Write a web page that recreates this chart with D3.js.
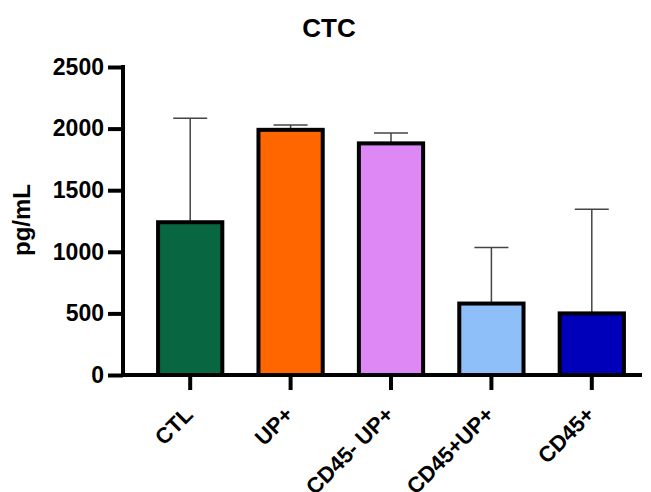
<!DOCTYPE html>
<html>
<head>
<meta charset="utf-8">
<script src="https://cdn.jsdelivr.net/npm/d3@7"></script>
<style>
  body { margin: 0; background: #fff; }
  text { font-family: "Liberation Sans", Arial, sans-serif; font-weight: bold; }
</style>
</head>
<body>
<script>
const width = 651;
const height = 492;

// data
const groups = ["CTL", "UP+", "CD45- UP+", "CD45+UP+", "CD45+"];
const means = [1240, 1990, 1880, 580, 500];
const sdUpper = [2085, 2030, 1965, 1035, 1345];
const colors = ["#086640", "#ff6600", "#dd88f5", "#8fbff8", "#0000bb"];
const yTicks = [0, 500, 1000, 1500, 2000, 2500];

const svg = d3.select("body").append("svg").attr("width", width).attr("height", height);

const axisLeft = 123;
const axisRight = 642;
const y0 = 375;

const x = d3.scaleBand().domain(groups).range([140, 642]).paddingInner(0.36).paddingOuter(0.18);
const y = d3.scaleLinear().domain([0, 2500]).range([y0, 67]);

// title
svg.append("text")
  .attr("x", 329).attr("y", 37)
  .attr("text-anchor", "middle")
  .attr("font-size", 26)
  .text("CTC");

// error bars (drawn first so the bar sits on top)
const err = svg.append("g").attr("stroke", "#444").attr("stroke-width", 1.5);
groups.forEach((g, i) => {
  const cx = x(g) + x.bandwidth() / 2;
  err.append("line").attr("x1", cx).attr("x2", cx).attr("y1", y(means[i])).attr("y2", y(sdUpper[i]));
  err.append("line").attr("x1", cx - 17).attr("x2", cx + 17).attr("y1", y(sdUpper[i])).attr("y2", y(sdUpper[i]));
});

// bars
svg.append("g").selectAll("rect")
  .data(groups)
  .join("rect")
  .attr("x", d => x(d))
  .attr("y", (d, i) => y(means[i]))
  .attr("width", x.bandwidth())
  .attr("height", (d, i) => y0 - y(means[i]))
  .attr("fill", (d, i) => colors[i])
  .attr("stroke", "#000")
  .attr("stroke-width", 4);

// y axis
const yAxis = svg.append("g").attr("transform", `translate(${axisLeft},0)`)
  .call(d3.axisLeft(y).tickValues(yTicks).tickFormat(d3.format("d")).tickSize(15).tickPadding(4));
yAxis.select(".domain").remove();
yAxis.selectAll(".tick line").attr("stroke", "#000").attr("stroke-width", 4);
yAxis.selectAll(".tick text").attr("font-size", 23).attr("fill", "#000");
svg.append("line")
  .attr("x1", axisLeft).attr("x2", axisLeft)
  .attr("y1", y(2500) - 2).attr("y2", y0 + 2)
  .attr("stroke", "#000").attr("stroke-width", 4);

// x axis
svg.append("line")
  .attr("x1", axisLeft - 2).attr("x2", axisRight)
  .attr("y1", y0).attr("y2", y0)
  .attr("stroke", "#000").attr("stroke-width", 4);
const xAxis = svg.append("g").attr("transform", `translate(0,${y0})`)
  .call(d3.axisBottom(x).tickSize(15).tickPadding(0));
xAxis.select(".domain").remove();
xAxis.selectAll(".tick line").attr("stroke", "#000").attr("stroke-width", 4);
xAxis.selectAll(".tick text")
  .attr("font-size", 22)
  .attr("fill", "#000")
  .attr("text-anchor", "end")
  .attr("y", 0)
  .attr("dy", 0)
  .attr("transform", "translate(4,41) rotate(-45)");

// y label
svg.append("text")
  .attr("transform", "translate(30,220) rotate(-90)")
  .attr("text-anchor", "middle")
  .attr("font-size", 24)
  .text("pg/mL");
</script>
</body>
</html>
